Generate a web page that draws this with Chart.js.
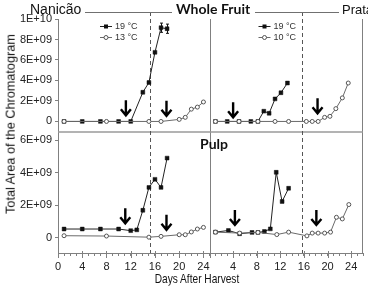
<!DOCTYPE html>
<html lang="pt">
<head>
<meta charset="UTF-8">
<title>Nanicão / Prata</title>
<script src="https://cdn.jsdelivr.net/npm/chart.js"></script>
<style>
  body { margin: 0; background: #fff; }
  .wrap { position: relative; width: 368px; height: 290px; overflow: hidden; font-family: "Liberation Sans", Arial, sans-serif; color: #111; }
  canvas { position: absolute; left: 0; top: 0; }
  .lbl { position: absolute; white-space: nowrap; line-height: 1; }
  .bold { font-family: Lato, "Liberation Sans", sans-serif; font-weight: 700; font-size: 14px; }
  .rule { position: absolute; height: 0; border-top: 1px solid #707070; }
</style>
</head>
<body>
<div class="wrap">
  <canvas id="chart" width="368" height="290"></canvas>

  <!-- titulos -->
  <div class="lbl" style="left:30px; top:1.5px; font-size:14px;">Nanicão</div>
  <div class="rule" style="left:85px; top:12px; width:87px;"></div>
  <div class="lbl bold" style="left:176px; top:1.8px;">Whole Fruit</div>
  <div class="rule" style="left:255px; top:12px; width:84px;"></div>
  <div class="lbl" style="left:342px; top:3px; font-size:13px;">Prata</div>
  <div class="lbl bold" style="left:200px; top:136.5px;">Pulp</div>

  <div class="lbl" style="left:197px; top:278px; font-size:13px; transform: translate(-50%, -50%) scaleX(0.78);">Days After Harvest</div>
  <div class="lbl" style="left:10.5px; top:124px; font-size:12.7px; transform: translate(-50%, -50%) rotate(-90deg);">Total Area of the Chromatogram</div>
</div>

<script>
// ---- dados ----
// Nanicão, fruto inteiro
const nanDaysWF19 = [1, 4, 7, 10, 12, 14, 15, 16, 17, 18];
const nanWF19     = [0, 0, 0, 0, 0, 2.85e9, 3.8e9, 6.75e9, 9.15e9, 9.05e9];
const nanErrDays  = [17, 18];
const nanErrWF19  = [0.45e9, 0.45e9];
const nanDaysWF13 = [1, 8, 15, 17, 20, 21, 22, 23, 24];
const nanWF13     = [0, 0, 0, 0, 0.2e9, 0.4e9, 1.2e9, 1.4e9, 1.9e9];

// Nanicão, polpa
const nanDaysP19 = [1, 4, 7, 10, 12, 13, 14, 15, 16, 17, 18];
const nanP19     = [0.55e9, 0.55e9, 0.55e9, 0.55e9, 0.45e9, 0.5e9, 1.7e9, 3.1e9, 3.6e9, 3.1e9, 4.9e9];
const nanDaysP13 = [1, 8, 15, 17, 20, 21, 22, 23, 24];
const nanP13     = [0.14e9, 0.12e9, 0.05e9, 0.1e9, 0.2e9, 0.2e9, 0.37e9, 0.55e9, 0.65e9];

// Prata, fruto inteiro
const praDaysWF19 = [1, 3, 5, 7, 8.2, 9.2, 10.1, 11.1, 12.1, 13.2];
const praWF19     = [0, 0, 0, 0, 0, 1.0e9, 0.8e9, 2.2e9, 2.8e9, 3.75e9];
const praDaysWF10 = [1, 5, 8.2, 11.1, 13.4, 16.4, 17.4, 18.4, 19.5, 20.4, 21.4, 22.5, 23.5];
const praWF10     = [0, 0, 0, 0, 0, 0, 0, 0, 0.4e9, 0.5e9, 1.25e9, 2.3e9, 3.75e9];

// Prata, polpa
const praDaysP19 = [1, 3.2, 5.1, 7.2, 8.2, 9.3, 10.3, 11.3, 12.3, 13.4];
const praP19     = [0.36e9, 0.46e9, 0.26e9, 0.34e9, 0.34e9, 0.4e9, 0.56e9, 4.03e9, 2.24e9, 3.05e9];
const praDaysP10 = [1, 5.1, 8.2, 11.4, 13.4, 16.5, 17.4, 18.4, 19.5, 20.5, 21.5, 22.5, 23.6];
const praP10     = [0.36e9, 0.3e9, 0.34e9, 0.21e9, 0.36e9, 0.13e9, 0.3e9, 0.3e9, 0.3e9, 0.36e9, 1.27e9, 1.17e9, 2.05e9];

// setas (dia, valor da ponta)
const arrowDaysNanWF = [11.2, 17.9];
const arrowTipNanWF  = [0.6e9, 0.55e9];
const arrowDaysPraWF = [4.0, 18.3];
const arrowTipPraWF  = [0.4e9, 0.8e9];
const arrowDaysNanP  = [11.1, 17.9];
const arrowTipNanP   = [0.9e9, 0.5e9];
const arrowDaysPraP  = [4.3, 18.1];
const arrowTipPraP   = [0.8e9, 0.8e9];

// linha tracejada (dia)
const dashDayNan = 15.1;
const dashDayPra = 15.6;

// eixos
const yTopTicks  = [0, 2e9, 4e9, 6e9, 8e9, 1e10];
const yTopLabels = ['0', '2E+09', '4E+09', '6E+09', '8E+09', '1E+10'];
const yBotTicks  = [0, 2e9, 4e9, 6e9];
const yBotLabels = ['0', '2E+09', '4E+09', '6E+09'];
const xLeftLabels  = [0, 4, 8, 12, 16, 20, 24];
const xRightLabels = [4, 8, 12, 16, 20, 24];

const legendNan = ['19 °C', '13 °C'];
const legendPra = ['19 °C', '10 °C'];

// ---- montagem ----
function pts(days, vals) {
    return days.map((d, i) => ({ x: d, y: vals[i] }));
}

const warm = {
    borderColor: '#222', borderWidth: 1,
    pointStyle: 'rect', pointRadius: 2.7,
    pointBackgroundColor: '#111', pointBorderColor: '#111', pointBorderWidth: 0.5
};
const cold = {
    borderColor: '#6a6a6a', borderWidth: 1,
    pointStyle: 'circle', pointRadius: 2,
    pointBackgroundColor: '#fff', pointBorderColor: '#555', pointBorderWidth: 1
};

function seg(ctx, x1, y1, x2, y2) {
    ctx.beginPath();
    ctx.moveTo(x1, y1);
    ctx.lineTo(x2, y2);
    ctx.stroke();
}

function drawArrow(ctx, x, tipY) {
    ctx.beginPath();
    ctx.moveTo(x, tipY - 15);
    ctx.lineTo(x, tipY - 1);
    ctx.moveTo(x - 5, tipY - 6);
    ctx.lineTo(x, tipY);
    ctx.lineTo(x + 5, tipY - 6);
    ctx.stroke();
}

const decor = {
    id: 'decor',
    beforeDatasetsDraw(chart) {
        const { ctx } = chart;
        const { xL, xR, yT, yB } = chart.scales;
        ctx.save();
        ctx.strokeStyle = '#808080';
        ctx.lineWidth = 1;
        const sep = Math.round(xR.left) + 0.5;
        seg(ctx, sep, yT.top, sep, yB.bottom + 5);
        const rgt = Math.round(xR.right) - 0.5;
        seg(ctx, rgt, yT.top, rgt, yB.bottom);
        ctx.strokeStyle = '#9a9a9a';
        ctx.lineWidth = 1.5;
        seg(ctx, xL.left, yT.bottom, xR.right, yT.bottom);

        // tracos maiores nos dias rotulados
        ctx.strokeStyle = '#808080';
        ctx.lineWidth = 1;
        [[xL, xLeftLabels], [xR, xRightLabels]].forEach(([s, vals]) => {
            vals.forEach(v => {
                const x = Math.round(s.getPixelForValue(v)) + 0.5;
                seg(ctx, x, s.top - 2, x, s.top + 5);
            });
        });

        // linhas tracejadas
        ctx.strokeStyle = '#555';
        ctx.lineWidth = 1;
        ctx.setLineDash([4, 3]);
        const d1 = Math.round(xL.getPixelForValue(dashDayNan)) + 0.5;
        const d2 = Math.round(xR.getPixelForValue(dashDayPra)) + 0.5;
        seg(ctx, d1, 12, d1, yB.bottom);
        seg(ctx, d2, 12, d2, yB.bottom);
        ctx.restore();
    },
    afterDatasetsDraw(chart) {
        const { ctx } = chart;
        const { xL, xR, yT, yB } = chart.scales;
        ctx.save();

        // barras de erro
        ctx.strokeStyle = '#111';
        ctx.lineWidth = 1;
        nanErrDays.forEach((d, i) => {
            const v = nanWF19[nanDaysWF19.indexOf(d)];
            const x = Math.round(xL.getPixelForValue(d)) + 0.5;
            const y1 = yT.getPixelForValue(v + nanErrWF19[i]);
            const y2 = yT.getPixelForValue(v - nanErrWF19[i]);
            seg(ctx, x, y1, x, y2);
            seg(ctx, x - 1.5, y1, x + 1.5, y1);
            seg(ctx, x - 1.5, y2, x + 1.5, y2);
        });

        // setas
        ctx.strokeStyle = '#000';
        ctx.lineWidth = 2.4;
        ctx.lineCap = 'butt';
        const groups = [
            [xL, yT, arrowDaysNanWF, arrowTipNanWF],
            [xR, yT, arrowDaysPraWF, arrowTipPraWF],
            [xL, yB, arrowDaysNanP, arrowTipNanP],
            [xR, yB, arrowDaysPraP, arrowTipPraP]
        ];
        groups.forEach(([xs, ys, days, tips]) => {
            days.forEach((d, i) => drawArrow(ctx, xs.getPixelForValue(d), ys.getPixelForValue(tips[i])));
        });

        // legendas
        ctx.font = '9px "Liberation Sans", Arial, sans-serif';
        ctx.textBaseline = 'middle';
        const legends = [[xL.left + 42, legendNan], [xR.left + 49, legendPra]];
        legends.forEach(([lx, names]) => {
            names.forEach((name, i) => {
                const y = yT.top + 7.5 + i * 11;
                ctx.lineWidth = 1;
                ctx.strokeStyle = i === 0 ? '#222' : '#6a6a6a';
                seg(ctx, lx, y, lx + 12, y);
                if (i === 0) {
                    ctx.fillStyle = '#111';
                    ctx.fillRect(lx + 4, y - 2, 4, 4);
                } else {
                    ctx.beginPath();
                    ctx.arc(lx + 6, y, 2, 0, Math.PI * 2);
                    ctx.fillStyle = '#fff';
                    ctx.fill();
                    ctx.strokeStyle = '#555';
                    ctx.stroke();
                }
                ctx.fillStyle = '#333';
                ctx.fillText(name, lx + 15, y + 0.5);
            });
        });
        ctx.restore();
    }
};

const tickFont = { family: '"Liberation Sans", Arial, sans-serif', size: 11 };

function xAxis(weight, sw, max, labels) {
    return {
        type: 'linear', position: 'bottom', stack: 'days', stackWeight: sw, weight: weight,
        min: 0, max: max,
        grid: { drawOnChartArea: false, color: '#808080', tickLength: 3 },
        border: { color: '#808080', width: 1 },
        ticks: {
            stepSize: 1, autoSkip: false, maxRotation: 0, minRotation: 0,
            padding: 4, color: '#222', font: tickFont,
            callback: v => labels.includes(v) ? String(v) : ''
        },
        afterFit: s => { s.height = 37; }
    };
}

function yAxis(weight, sw, min, max, tickVals, tickLabels) {
    return {
        type: 'linear', position: 'left', stack: 'area', stackWeight: sw, weight: weight,
        min: min, max: max,
        grid: { drawOnChartArea: false, color: '#808080', tickLength: 3 },
        border: { color: '#808080', width: 1 },
        afterBuildTicks: s => { s.ticks = tickVals.map(v => ({ value: v })); },
        ticks: {
            autoSkip: false, padding: 3, color: '#222', font: tickFont,
            callback: v => tickLabels[tickVals.indexOf(v)]
        },
        afterFit: s => { s.width = 58; }
    };
}

const ctx = document.getElementById('chart').getContext('2d');
const grafico = new Chart(ctx, {
    type: 'line',
    data: {
        datasets: [
            { label: 'Nanicão fruto 13 °C', data: pts(nanDaysWF13, nanWF13), xAxisID: 'xL', yAxisID: 'yT', ...cold },
            { label: 'Nanicão fruto 19 °C', data: pts(nanDaysWF19, nanWF19), xAxisID: 'xL', yAxisID: 'yT', ...warm },
            { label: 'Nanicão polpa 13 °C', data: pts(nanDaysP13, nanP13), xAxisID: 'xL', yAxisID: 'yB', ...cold },
            { label: 'Nanicão polpa 19 °C', data: pts(nanDaysP19, nanP19), xAxisID: 'xL', yAxisID: 'yB', ...warm },
            { label: 'Prata fruto 10 °C', data: pts(praDaysWF10, praWF10), xAxisID: 'xR', yAxisID: 'yT', ...cold },
            { label: 'Prata fruto 19 °C', data: pts(praDaysWF19, praWF19), xAxisID: 'xR', yAxisID: 'yT', ...warm },
            { label: 'Prata polpa 10 °C', data: pts(praDaysP10, praP10), xAxisID: 'xR', yAxisID: 'yB', ...cold },
            { label: 'Prata polpa 19 °C', data: pts(praDaysP19, praP19), xAxisID: 'xR', yAxisID: 'yB', ...warm }
        ]
    },
    options: {
        responsive: false,
        animation: false,
        layout: { padding: { top: 19, right: 2, bottom: 0, left: 0 } },
        plugins: { legend: { display: false }, tooltip: { enabled: false } },
        scales: {
            xL: xAxis(1, 153, 25, xLeftLabels),
            xR: xAxis(2, 155, 26, xRightLabels),
            yT: yAxis(2, 113, -1.03e9, 1e10, yTopTicks, yTopLabels),
            yB: yAxis(1, 121, -0.92e9, 6.5e9, yBotTicks, yBotLabels)
        }
    },
    plugins: [decor]
});
</script>
</body>
</html>
